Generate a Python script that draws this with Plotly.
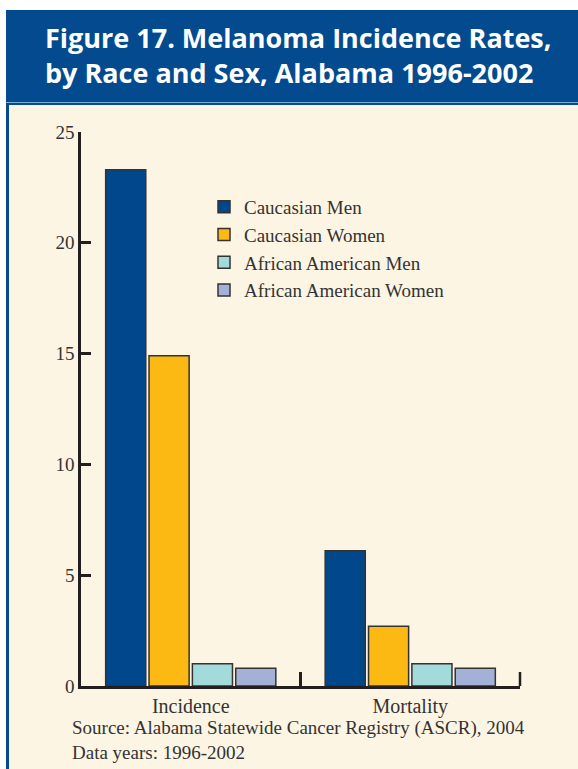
import plotly.graph_objects as go

# Data
categories = ["Incidence", "Mortality"]
series_names = ["Caucasian Men", "Caucasian Women", "African American Men", "African American Women"]
caucasian_men = [23.3, 6.1]
caucasian_women = [14.9, 2.7]
african_american_men = [1.0, 1.0]
african_american_women = [0.8, 0.8]
y_ticks = [0, 5, 10, 15, 20, 25]

series_values = [caucasian_men, caucasian_women, african_american_men, african_american_women]
colors = ["#00478C", "#FDB913", "#A3DADA", "#A3B1D6"]

W, H = 578, 769
L, R, T, B = 81, 58, 132, 83
PW, PH = W - L - R, H - T - B

def px_x(px):
    return (px - L) / PW

def px_y(py):
    return (H - B - py) / PH

TEXT = "#333333"
AXIS = "#231F20"
SERIF = "Liberation Serif, Times New Roman, serif"

fig = go.Figure()
for name, vals, col in zip(series_names, series_values, colors):
    fig.add_trace(go.Bar(
        x=categories, y=vals, name=name,
        marker=dict(color=col, line=dict(color="#333333", width=1.5)),
    ))

shapes = [
    # cream panel
    dict(type="rect", xref="paper", yref="paper", layer="below",
         x0=px_x(6), x1=px_x(580), y0=px_y(772), y1=px_y(102),
         fillcolor="#FDF5E4", line=dict(width=0)),
    # header band
    dict(type="rect", xref="paper", yref="paper", layer="below",
         x0=px_x(6), x1=px_x(580), y0=px_y(105), y1=px_y(10),
         fillcolor="#034A8E", line=dict(width=0)),
    # left border of panel
    dict(type="rect", xref="paper", yref="paper", layer="below",
         x0=px_x(6), x1=px_x(9), y0=px_y(772), y1=px_y(102),
         fillcolor="#034A8E", line=dict(width=0)),
    # light rule under header
    dict(type="line", xref="paper", yref="paper", layer="below",
         x0=px_x(6), x1=px_x(580), y0=px_y(102.5), y1=px_y(102.5),
         line=dict(color="#7FA8D8", width=1)),
    # closing tick at the right end of the category axis
    dict(type="line", xref="paper", yref="paper", layer="above",
         x0=1, x1=1, y0=0, y1=14 / PH,
         line=dict(color=AXIS, width=2.5)),
]

annotations = [
    dict(text="<b>Figure 17. Melanoma Incidence Rates,<br>by Race and Sex, Alabama 1996-2002</b>",
         xref="paper", yref="paper", x=px_x(43), y=px_y(55), xanchor="left", yanchor="middle",
         align="left", showarrow=False,
         font=dict(family="Open Sans, Roboto, sans-serif", size=27, color="white")),
    dict(text="Source: Alabama Statewide Cancer Registry (ASCR), 2004<br>Data years: 1996-2002",
         xref="paper", yref="paper", x=px_x(70), y=px_y(715), xanchor="left", yanchor="top",
         align="left", showarrow=False,
         font=dict(family=SERIF, size=19, color=TEXT)),
]

fig.update_layout(
    width=W, height=H,
    margin=dict(l=L, r=R, t=T, b=B),
    paper_bgcolor="white",
    plot_bgcolor="rgba(0,0,0,0)",
    barmode="group",
    bargap=0.21,
    bargroupgap=0.075,
    showlegend=True,
    legend=dict(x=px_x(204), y=px_y(188), xanchor="left", yanchor="top",
                bgcolor="rgba(0,0,0,0)", font=dict(family=SERIF, size=19, color=TEXT),
                tracegroupgap=0),
    shapes=shapes,
    annotations=annotations,
    xaxis=dict(showline=True, linecolor=AXIS, linewidth=2.5,
               ticks="inside", tickson="boundaries", ticklen=14, tickwidth=2.5,
               tickcolor=AXIS, showgrid=False,
               tickfont=dict(family=SERIF, size=20, color=TEXT)),
    yaxis=dict(range=[0, 25], tickvals=y_ticks, showline=True, linecolor=AXIS,
               linewidth=2.5, ticks="inside", ticklen=10, tickwidth=2.5,
               tickcolor=AXIS, showgrid=False, zeroline=False,
               tickfont=dict(family=SERIF, size=19, color=TEXT)),
)

fig.write_html("out.html")
